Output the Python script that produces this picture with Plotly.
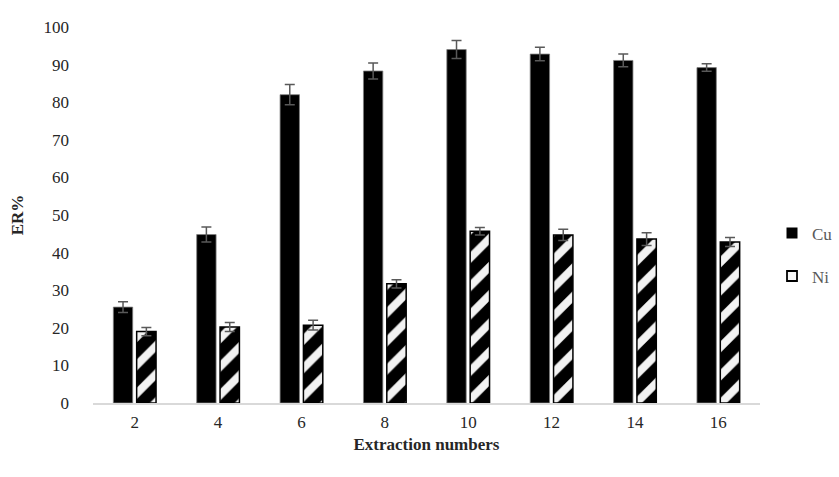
import plotly.graph_objects as go

categories = ["2", "4", "6", "8", "10", "12", "14", "16"]
cu_values = [25.5, 44.8, 82.0, 88.3, 94.0, 92.8, 91.1, 89.2]
cu_errors = [1.4, 2.0, 2.7, 2.1, 2.4, 1.8, 1.7, 1.0]
ni_values = [19.0, 20.2, 20.7, 31.7, 45.7, 44.7, 43.6, 42.8]
ni_errors = [1.1, 1.2, 1.3, 1.1, 1.0, 1.5, 1.7, 1.2]
y_ticks = [0, 10, 20, 30, 40, 50, 60, 70, 80, 90, 100]

FONT = "Liberation Serif, Times New Roman, serif"
ERR_COLOR = "#595959"
TXT = "#262626"

fig = go.Figure()
fig.add_trace(go.Bar(
    x=categories, y=cu_values, name="Cu", showlegend=False,
    marker=dict(color="black", line=dict(color="#7f7f7f", width=0.8)),
    error_y=dict(type="data", array=cu_errors, visible=True,
                 color=ERR_COLOR, thickness=1.5, width=5),
))
fig.add_trace(go.Bar(
    x=categories, y=ni_values, name="Ni", showlegend=False,
    marker=dict(color="#f2f2f2", line=dict(color="black", width=1.5),
                pattern=dict(shape="/", fgcolor="black", bgcolor="#f2f2f2",
                             fgopacity=1, size=20, solidity=0.6)),
    error_y=dict(type="data", array=ni_errors, visible=True,
                 color=ERR_COLOR, thickness=1.5, width=5),
))
# legend entries (square swatches like the original)
fig.add_trace(go.Scatter(
    x=[None], y=[None], mode="markers", name="Cu", legendgroup="cu",
    marker=dict(symbol="square", size=11, color="black",
                line=dict(color="black", width=0)),
))
fig.add_trace(go.Scatter(
    x=[None], y=[None], mode="markers", name="Ni", legendgroup="ni",
    marker=dict(symbol="square", size=10, color="#f8f8f8",
                line=dict(color="black", width=1.8)),
))

fig.update_layout(
    width=839, height=477,
    margin=dict(l=93, r=79, t=27, b=74, autoexpand=False),
    paper_bgcolor="white", plot_bgcolor="white",
    barmode="group", bargap=0.44, bargroupgap=0.17,
    font=dict(family=FONT, size=17, color=TXT),
    showlegend=True,
    legend=dict(x=1.018, xanchor="left", y=0.394, yanchor="middle",
                font=dict(family=FONT, size=17, color="#595959"),
                tracegroupgap=18, itemwidth=30,
                bgcolor="rgba(0,0,0,0)"),
    xaxis=dict(
        showline=True, linecolor="#d9d9d9", linewidth=1.5,
        showgrid=False, ticks="", ticklabelstandoff=3,
        tickfont=dict(family=FONT, size=17, color=TXT),
        title=dict(text="<b>Extraction numbers</b>",
                   font=dict(family=FONT, size=17, color=TXT), standoff=7),
    ),
    yaxis=dict(
        range=[0, 100], tickvals=y_ticks, showgrid=False, showline=False,
        zeroline=False, ticks="", ticklabelstandoff=23,
        tickfont=dict(family=FONT, size=17, color=TXT),
        title=dict(text="<b>ER%</b>", font=dict(family=FONT, size=17, color=TXT),
                   standoff=15),
    ),
)

fig.write_html("out.html", config={"displayModeBar": False},
               post_script="document.body.style.margin='0';")
